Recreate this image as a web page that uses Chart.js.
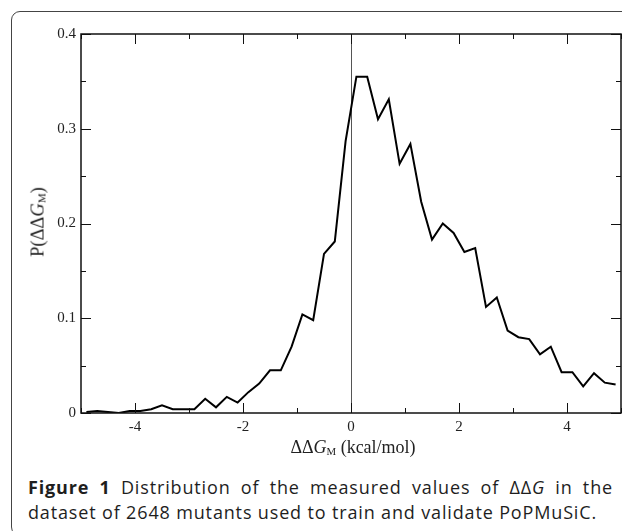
<!DOCTYPE html>
<html>
<head>
<meta charset="utf-8">
<script src="https://cdn.jsdelivr.net/npm/chart.js@4.4.0/dist/chart.umd.min.js"></script>
<style>
  html, body { margin: 0; background: #fff; }
  #page { position: relative; width: 622px; height: 531px; overflow: hidden; }
  #frame { position: absolute; left: 11px; top: 11px; width: 800px; height: 523px; border: 1px solid #444; border-radius: 9px; }
  #wrap { position: absolute; left: 0; top: 0; width: 622px; height: 470px; }
  .serif { font-family: "Liberation Serif", "DejaVu Serif", serif; color: #222; position: absolute; white-space: nowrap; }
  #xtitle { font-size: 18px; left: 353px; top: 447px; transform: translate(-50%, -50%); }
  #ytitle { font-size: 18.5px; left: 38px; top: 222px; transform: translate(-50%, -50%) rotate(-90deg); }
  sub { font-size: 0.6em; vertical-align: -0.2em; }
  #caption { position: absolute; left: 28px; top: 475px; width: 585px; font-family: "Open Sans", "Noto Sans", sans-serif; font-size: 18px; letter-spacing: 0.85px; line-height: 25px; color: #1e1e1e; }
  #caption .l1 { text-align: justify; text-align-last: justify; white-space: nowrap; }
</style>
</head>
<body>
<div id="page">
<div id="frame"></div>
<div id="wrap"><canvas id="graph"></canvas></div>
<div id="xtitle" class="serif">&Delta;&Delta;<i>G</i><sub>M</sub> (kcal/mol)</div>
<div id="ytitle" class="serif">P(&Delta;&Delta;<i>G</i><sub>M</sub>)</div>
<div id="caption">
  <div class="l1"><b>Figure 1</b> Distribution of the measured values of &Delta;&Delta;<i>G</i> in the</div>
  <div>dataset of 2648 mutants used to train and validate PoPMuSiC.</div>
</div>
</div>
<script>
// bin centres (kcal/mol) and probability
let ddg = [-4.9, -4.7, -4.5, -4.3, -4.1, -3.9, -3.7, -3.5, -3.3, -3.1,
           -2.9, -2.7, -2.5, -2.3, -2.1, -1.9, -1.7, -1.5, -1.3, -1.1,
           -0.9, -0.7, -0.5, -0.3, -0.1, 0.1, 0.3, 0.5, 0.7, 0.9,
           1.1, 1.3, 1.5, 1.7, 1.9, 2.1, 2.3, 2.5, 2.7, 2.9,
           3.1, 3.3, 3.5, 3.7, 3.9, 4.1, 4.3, 4.5, 4.7, 4.9];
let prob = [0.001, 0.002, 0.001, 0.000, 0.002, 0.002, 0.004, 0.008, 0.004, 0.004,
            0.004, 0.015, 0.006, 0.017, 0.011, 0.022, 0.031, 0.045, 0.045, 0.070,
            0.104, 0.098, 0.168, 0.181, 0.287, 0.355, 0.355, 0.310, 0.331, 0.263,
            0.284, 0.223, 0.183, 0.200, 0.190, 0.170, 0.174, 0.112, 0.122, 0.087,
            0.080, 0.078, 0.062, 0.070, 0.043, 0.043, 0.028, 0.042, 0.032, 0.030];

let xMajor = [-4, -2, 0, 2, 4];
let xMinor = [-5, -3, -1, 1, 3, 5];
let yMajor = [0, 0.1, 0.2, 0.3, 0.4];
let yMinor = [0.05, 0.15, 0.25, 0.35];

// box, inward ticks on all four sides, and the zero line
const frameTicks = {
  id: "frameTicks",
  afterDatasetsDraw(chart) {
    let c = chart.ctx, a = chart.chartArea;
    let xs = chart.scales.x, ys = chart.scales.y;
    c.save();
    c.strokeStyle = "#111";
    c.lineWidth = 1;
    c.beginPath();
    xMajor.concat(xMinor).forEach(v => {
      let len = xMajor.includes(v) ? 10 : 5;
      let px = Math.round(xs.getPixelForValue(v)) + 0.5;
      c.moveTo(px, a.bottom); c.lineTo(px, a.bottom - len);
      c.moveTo(px, a.top); c.lineTo(px, a.top + len);
    });
    yMajor.concat(yMinor).forEach(v => {
      let len = yMajor.includes(v) ? 10 : 5;
      let py = Math.round(ys.getPixelForValue(v)) + 0.5;
      c.moveTo(a.left, py); c.lineTo(a.left + len, py);
      c.moveTo(a.right, py); c.lineTo(a.right - len, py);
    });
    c.stroke();
    c.lineWidth = 1.5;
    c.strokeRect(a.left, a.top, a.right - a.left, a.bottom - a.top);
    c.restore();
  },
  beforeDatasetsDraw(chart) {
    let c = chart.ctx, a = chart.chartArea;
    let px = Math.round(chart.scales.x.getPixelForValue(0)) + 0.5;
    c.save();
    c.strokeStyle = "#555";
    c.lineWidth = 1;
    c.beginPath();
    c.moveTo(px, a.top); c.lineTo(px, a.bottom);
    c.stroke();
    c.restore();
  }
};

const ctx = document.getElementById("graph");

new Chart(ctx, {
  type: "line",
  data: {
    datasets: [{
      data: ddg.map((x, i) => ({ x: x, y: prob[i] })),
      borderColor: "#000",
      borderWidth: 2,
      pointRadius: 0,
      fill: false,
      tension: 0
    }]
  },
  options: {
    responsive: true,
    maintainAspectRatio: false,
    animation: false,
    layout: { padding: { top: 34, right: 1, left: 0, bottom: 0 } },
    plugins: { legend: { display: false }, tooltip: { enabled: false } },
    scales: {
      x: {
        type: "linear",
        min: -5, max: 5,
        afterBuildTicks: s => { s.ticks = xMajor.map(v => ({ value: v })); },
        afterFit: s => { s.height = 57; },
        grid: { display: false, drawTicks: false },
        border: { display: false },
        ticks: { padding: 5, color: "#222", font: { family: "Liberation Serif", size: 15 }, maxRotation: 0 }
      },
      y: {
        min: 0, max: 0.4,
        afterBuildTicks: s => { s.ticks = yMajor.map(v => ({ value: v })); },
        afterFit: s => { s.width = 81; },
        grid: { display: false, drawTicks: false },
        border: { display: false },
        ticks: { padding: 5, color: "#222", font: { family: "Liberation Serif", size: 15 } }
      }
    }
  },
  plugins: [frameTicks]
});
</script>
</body>
</html>
